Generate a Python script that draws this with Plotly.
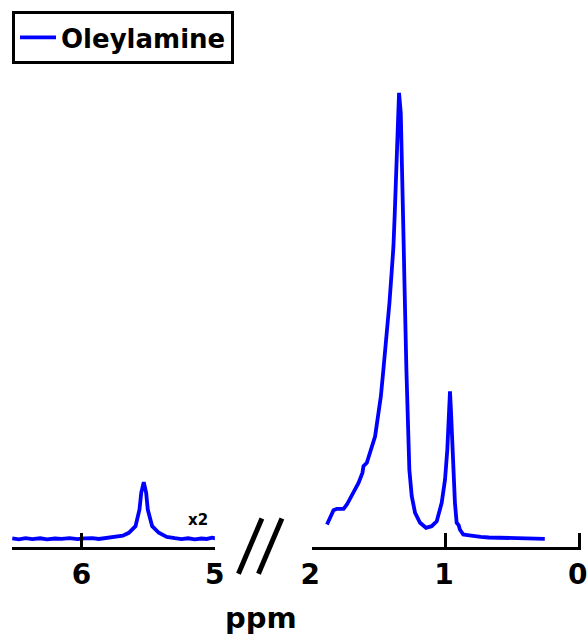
import plotly.graph_objects as go

# 1H NMR spectrum of oleylamine, drawn on a broken ppm axis
# Olefinic region (shown x2)
olefin_ppm = [6.52, 6.47, 6.42, 6.37, 6.31, 6.26, 6.20, 6.15, 6.09, 6.03, 5.98, 5.92,
              5.87, 5.82, 5.77, 5.73, 5.69, 5.645, 5.595, 5.565, 5.552, 5.533, 5.515,
              5.503, 5.470, 5.420, 5.36, 5.30, 5.25, 5.20, 5.15, 5.10, 5.06, 5.02, 4.98]
olefin_int = [0.25, 0.05, 0.30, 0.10, 0.28, 0.02, 0.22, 0.15, 0.32, 0.08, 0.25, 0.30,
              0.12, 0.35, 0.45, 0.60, 0.85, 1.50, 2.98, 6.71, 10.45, 12.82, 10.45,
              6.71, 2.98, 1.50, 0.60, 0.30, 0.10, 0.28, 0.05, 0.22, 0.12, 0.40, 0.20]

# Aliphatic region
alkyl_ppm = [1.890, 1.866, 1.841, 1.816, 1.766, 1.741, 1.692, 1.654, 1.625, 1.617,
             1.592, 1.567, 1.530, 1.505, 1.487, 1.468, 1.443, 1.423, 1.405, 1.393,
             1.383, 1.375, 1.368, 1.360, 1.351, 1.338, 1.331, 1.326, 1.321, 1.316,
             1.311, 1.307, 1.296, 1.285, 1.274, 1.256, 1.231, 1.194, 1.149, 1.107,
             1.069, 1.032, 1.007, 0.990, 0.978, 0.970, 0.963, 0.955, 0.946, 0.933,
             0.920, 0.905, 0.896, 0.871, 0.840, 0.796, 0.740, 0.680, 0.597, 0.520,
             0.450, 0.349, 0.300, 0.261]
alkyl_int = [3.36, 5.21, 6.55, 6.87, 6.87, 7.83, 10.45, 12.68, 14.92, 16.40,
             17.16, 19.40, 23.11, 28.34, 32.06, 38.03, 45.48, 52.95, 60.40, 65.62,
             73.09, 80.54, 87.99, 95.46, 100.0, 95.46, 87.99, 80.54, 73.09, 65.62,
             58.17, 49.22, 38.03, 26.85, 15.66, 9.69, 5.97, 3.74, 2.62, 2.98,
             4.09, 8.21, 13.42, 20.13, 29.08, 33.18, 29.08, 23.11, 15.66, 8.21,
             3.74, 3.20, 2.24, 1.12, 1.00, 0.74, 0.60, 0.45, 0.38, 0.30,
             0.25, 0.16, 0.30, 0.16]

left_ticks = [6, 5]
right_ticks = [2, 1, 0]
series_name = "Oleylamine"
scale_label = "x2"
axis_label = "ppm"

FONT = "DejaVu Sans, Liberation Sans, Arial, sans-serif"
BLUE = "#0000ff"

# plot-area geometry (pixels) used to place the break marks and labels
L, R, B = 12, 6.4, 87.5
W = 587 - L - R
H = 635 - B


def px(x):
    return (x - L) / W


def py(y):
    return (H - y) / H


fig = go.Figure()
fig.add_trace(go.Scatter(x=olefin_ppm, y=olefin_int, mode="lines", xaxis="x", yaxis="y",
                         line=dict(color=BLUE, width=3.8), showlegend=False))
fig.add_trace(go.Scatter(x=alkyl_ppm, y=alkyl_int, mode="lines", xaxis="x2", yaxis="y",
                         line=dict(color=BLUE, width=3.8), name=series_name))

axis_common = dict(showgrid=False, zeroline=False, showline=True, linecolor="black",
                   linewidth=3, ticks="inside", ticklen=14, tickwidth=3, tickcolor="black",
                   tickmode="array", anchor="y", ticklabeloverflow="allow",
                   tickfont=dict(family=FONT, size=28, color="black", weight="bold"))

fig.update_layout(
    width=587, height=635,
    margin=dict(l=L, r=R, t=0, b=B, autoexpand=False),
    plot_bgcolor="white", paper_bgcolor="white",
    xaxis=dict(domain=[0, px(214.7)], range=[6.522, 4.9995], tickvals=left_ticks, **axis_common),
    xaxis2=dict(domain=[px(312), 1], range=[2.0005, -0.01], tickvals=right_ticks,
                ticklabelshift=2, **axis_common),
    yaxis=dict(visible=False, range=[-1.678, 120.81], fixedrange=True),
    showlegend=True,
    legend=dict(xref="paper", yref="paper", x=0, y=py(11),
                xanchor="left", yanchor="top", bordercolor="black", borderwidth=3,
                bgcolor="white", itemwidth=36, tracegroupgap=0,
                font=dict(family=FONT, size=26, color="black", weight="bold")),
    shapes=[
        dict(type="line", xref="paper", yref="paper", x0=px(238.3), y0=py(574.3),
             x1=px(261.7), y1=py(519), line=dict(color="black", width=5)),
        dict(type="line", xref="paper", yref="paper", x0=px(258.3), y0=py(574.3),
             x1=px(281.7), y1=py(519), line=dict(color="black", width=5)),
    ],
    annotations=[
        dict(text=axis_label, xref="paper", yref="paper", x=px(261), y=py(619),
             xanchor="center", yanchor="middle", showarrow=False,
             font=dict(family=FONT, size=29, color="black", weight="bold")),
        dict(text=scale_label, xref="paper", yref="paper", x=px(198.3), y=py(520),
             xanchor="center", yanchor="middle", showarrow=False,
             font=dict(family=FONT, size=15, color="black", weight="bold")),
    ],
)

fig.write_html("out.html")
